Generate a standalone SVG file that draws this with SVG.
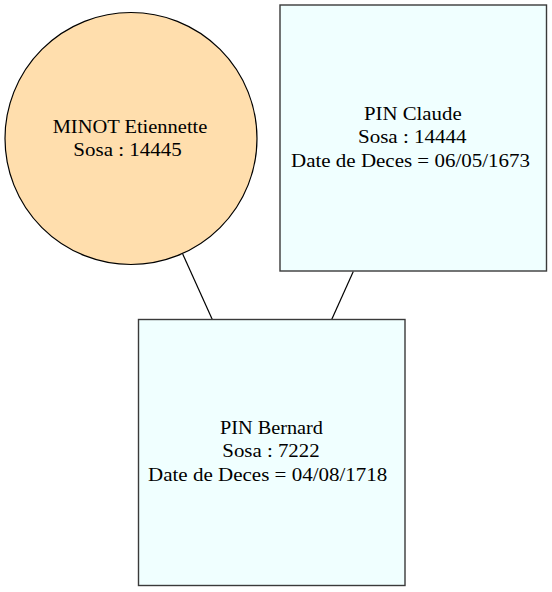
<svg xmlns="http://www.w3.org/2000/svg" width="552" height="592" viewBox="0 0 552 592">
<style>
  text { font-family: 'Liberation Serif', 'Times New Roman', Times, serif; font-size: 18px; fill: #000; text-anchor: middle; }
  .circ { fill: #FFDEAD; stroke: #000; stroke-width: 1.2; }
  .box { fill: #F0FFFF; stroke: #3a3a3a; stroke-width: 1.4; }
  .edge { stroke: #000; stroke-width: 1.2; fill: none; }
</style>
<rect width="552" height="592" fill="#fff"/>
<g id="connectors">
  <line class="edge" x1="182.7" y1="254" x2="212.3" y2="319.5"/>
  <line class="edge" x1="353.3" y1="271.5" x2="331.7" y2="319.5"/>
</g>
<g id="node-minot">
  <circle class="circ" cx="131" cy="138.5" r="126"/>
  <text x="130" y="132.7" textLength="154.7" lengthAdjust="spacingAndGlyphs">MINOT Etiennette</text>
  <text x="127.5" y="156" textLength="108.3" lengthAdjust="spacingAndGlyphs">Sosa : 14445</text>
</g>
<g id="node-claude">
  <rect class="box" x="280" y="5" width="266.5" height="266"/>
  <text x="412.8" y="120" textLength="97.7" lengthAdjust="spacingAndGlyphs">PIN Claude</text>
  <text x="412.3" y="143.3" textLength="108.7" lengthAdjust="spacingAndGlyphs">Sosa : 14444</text>
  <text x="410.5" y="166.7" textLength="239" lengthAdjust="spacingAndGlyphs">Date de Deces = 06/05/1673</text>
</g>
<g id="node-bernard">
  <rect class="box" x="138.5" y="319.5" width="266.5" height="266"/>
  <text x="271.5" y="433.8" textLength="103" lengthAdjust="spacingAndGlyphs">PIN Bernard</text>
  <text x="271" y="457.3" textLength="97.3" lengthAdjust="spacingAndGlyphs">Sosa : 7222</text>
  <text x="267.7" y="480.8" textLength="239.3" lengthAdjust="spacingAndGlyphs">Date de Deces = 04/08/1718</text>
</g>
</svg>
